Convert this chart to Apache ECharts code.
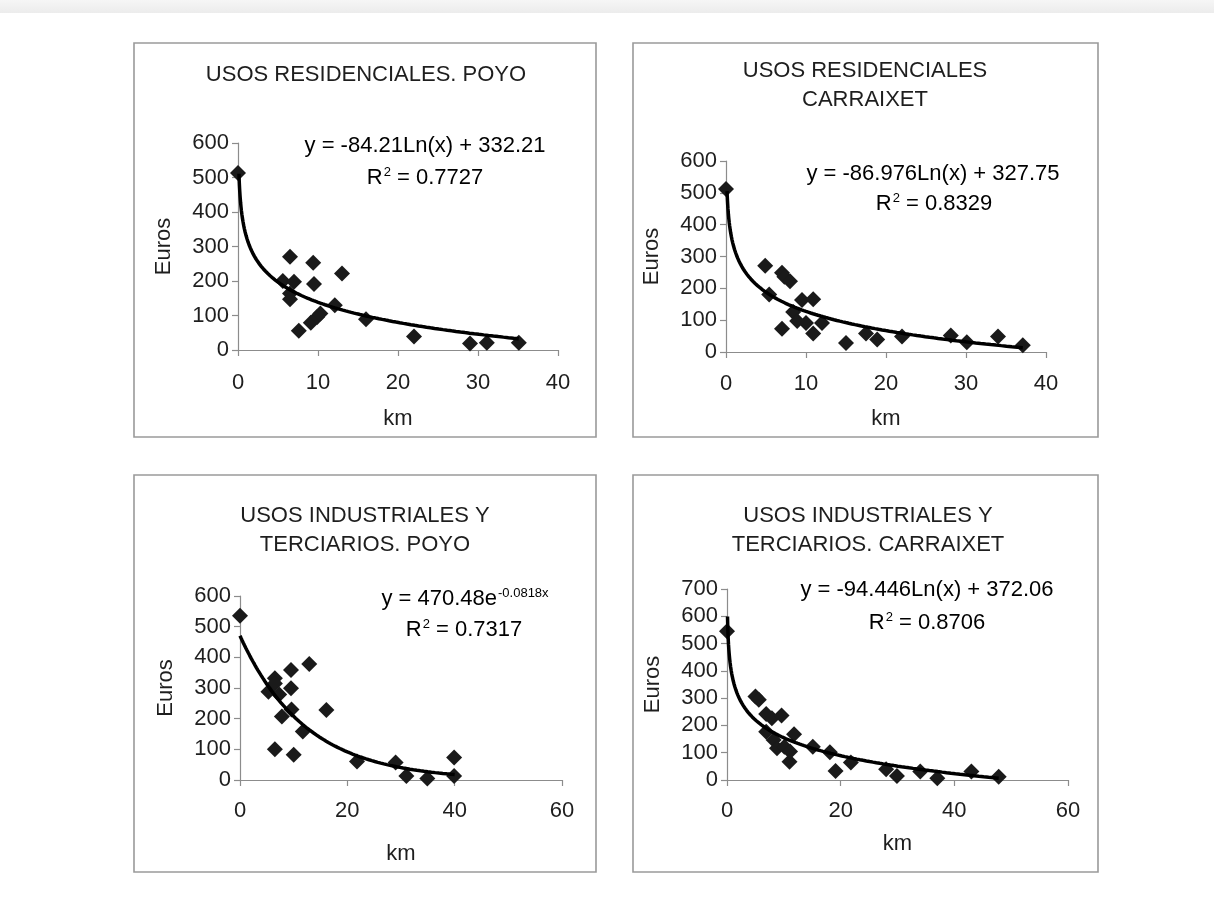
<!DOCTYPE html>
<html>
<head>
<meta charset="utf-8">
<script src="https://cdn.jsdelivr.net/npm/echarts@6/dist/echarts.min.js"></script>
<style>
  html, body { margin: 0; padding: 0; background: #fff; }
  #chart { width: 1214px; height: 908px; }
</style>
</head>
<body>
<div id="chart"></div>
<script>
// --- data ---
const resPoyoKm = [0, 6.5, 5.6, 7.0, 6.5, 6.5, 7.6, 9.4, 9.5, 9.1, 9.9, 10.3, 13.0, 12.1, 16.0, 22.0, 29.0, 31.1, 35.1];
const resPoyoEuros = [513, 270, 200, 198, 164, 147, 56, 253, 191, 79, 96, 106, 222, 130, 89, 39, 19, 21, 21];

const resCarrKm = [0, 4.9, 5.4, 7.0, 7.3, 8.0, 7.0, 8.4, 8.9, 9.5, 10.0, 10.9, 10.9, 12.0, 15.0, 17.5, 18.9, 22.0, 28.1, 30.1, 34.0, 37.1];
const resCarrEuros = [512, 271, 181, 249, 236, 222, 73, 126, 97, 163, 91, 166, 58, 91, 28, 58, 39, 49, 52, 31, 49, 21];

const indPoyoKm = [0, 5.3, 6.5, 6.5, 7.3, 6.5, 7.8, 9.5, 9.5, 9.6, 10.0, 12.9, 11.7, 16.1, 21.8, 29.0, 31.0, 34.9, 39.9, 39.9];
const indPoyoEuros = [536, 288, 332, 315, 279, 100, 207, 359, 299, 230, 82, 378, 158, 228, 60, 57, 13, 5, 73, 13];

const indCarrKm = [0, 5.0, 5.6, 6.9, 7.9, 9.6, 6.9, 8.2, 8.8, 10.1, 11.0, 11.8, 11.1, 15.1, 18.1, 19.1, 21.8, 28.0, 29.9, 34.0, 37.0, 43.0, 47.8];
const indCarrEuros = [545, 306, 294, 242, 226, 236, 177, 147, 116, 122, 67, 168, 104, 122, 102, 33, 64, 39, 15, 31, 6, 31, 12];

// trendline equations printed on the chart: [type, a, b, xFrom, xTo]
const trendResPoyo = ['log', -84.21, 332.21, 0.12, 35.1];
const trendResCarr = ['log', -86.976, 327.75, 0.13, 37.1];
const trendIndPoyo = ['exp', 470.48, -0.0818, 0, 40];
const trendIndCarr = ['log', -94.446, 372.06, 0.09, 47.8];

const xTicks = [[0, 40, 10], [0, 40, 10], [0, 60, 20], [0, 60, 20]];
const yTicks = [[0, 600, 100], [0, 600, 100], [0, 600, 100], [0, 700, 100]];

const titles = [
  'USOS RESIDENCIALES. POYO',
  'USOS RESIDENCIALES\nCARRAIXET',
  'USOS INDUSTRIALES Y\nTERCIARIOS. POYO',
  'USOS INDUSTRIALES Y\nTERCIARIOS. CARRAIXET',
];
const eqLines = [
  ['{t|y = -84.21Ln(x) + 332.21}', '{t|R}{s|2}{t| = 0.7727}'],
  ['{t|y = -86.976Ln(x) + 327.75}', '{t|R}{s|2}{t| = 0.8329}'],
  ['{t|y = 470.48e}{s|-0.0818x}', '{t|R}{s|2}{t| = 0.7317}'],
  ['{t|y = -94.446Ln(x) + 372.06}', '{t|R}{s|2}{t| = 0.8706}'],
];

// --- layout ---
const FONT = "'Liberation Sans', Arial, sans-serif";
const TXT = '#1e1e1e';
const boxes = [
  [134, 43, 462, 394],
  [633, 43, 465, 394],
  [134, 475, 462, 397],
  [633, 475, 465, 397],
];
const grids = [
  { left: 238, top: 143, width: 320, height: 207 },
  { left: 726, top: 161, width: 320, height: 191 },
  { left: 240, top: 596, width: 322, height: 184 },
  { left: 727, top: 589, width: 341, height: 191 },
];
const titlePos = [[366, 71], [865, 67], [365, 512], [868, 512]];
const eqPos = [
  [[425, 146], [425, 178]],
  [[933, 174], [934, 204]],
  [[465, 599], [464, 630]],
  [[927, 590], [927, 623]],
];
const xNameGap = [58, 56, 63, 53];
const xLabelMargin = [22, 21, 20, 20];

function trendData(t) {
  const [type, a, b, x0, x1] = t;
  const pts = [];
  const n = 160;
  for (let i = 0; i <= n; i++) {
    const u = i / n;
    const x = x0 + (x1 - x0) * u * u * u;
    const y = type === 'log' ? a * Math.log(x) + b : a * Math.exp(b * x);
    pts.push([x, y]);
  }
  return pts;
}

const scatterSets = [
  [resPoyoKm, resPoyoEuros],
  [resCarrKm, resCarrEuros],
  [indPoyoKm, indPoyoEuros],
  [indCarrKm, indCarrEuros],
];
const trends = [trendResPoyo, trendResCarr, trendIndPoyo, trendIndCarr];

const chart = echarts.init(document.getElementById('chart'), null, { renderer: 'canvas' });

const axisCommon = {
  type: 'value',
  axisLine: { show: true, onZero: false, lineStyle: { color: '#8c8c8c', width: 1.2 } },
  axisTick: { show: true, inside: false, length: 6, lineStyle: { color: '#8c8c8c', width: 1.2 } },
  splitLine: { show: false },
  nameTextStyle: { color: TXT, fontSize: 22, fontFamily: FONT },
};

const graphic = [];
boxes.forEach((b) => {
  graphic.push({
    type: 'rect',
    shape: { x: b[0], y: b[1], width: b[2], height: b[3] },
    style: { fill: '#fff', stroke: '#9a9a9a', lineWidth: 1.6 },
    z: -10,
  });
});
// faint page shadow at the top
graphic.push({
  type: 'rect',
  shape: { x: 0, y: 0, width: 1214, height: 13 },
  style: {
    fill: new echarts.graphic.LinearGradient(0, 0, 0, 1, [
      { offset: 0, color: '#f6f6f6' },
      { offset: 1, color: '#ececec' },
    ]),
  },
  z: -20,
});
titles.forEach((t, i) => {
  graphic.push({
    type: 'text',
    x: titlePos[i][0],
    y: titlePos[i][1] - 11,
    style: {
      text: t,
      fill: TXT,
      font: '22px ' + FONT,
      lineHeight: 29,
      align: 'center',
      verticalAlign: 'top',
    },
  });
});
eqLines.forEach((lines, i) => {
  lines.forEach((txt, j) => {
    graphic.push({
      type: 'text',
      x: eqPos[i][j][0],
      y: eqPos[i][j][1],
      style: {
        text: txt,
        align: 'center',
        verticalAlign: 'middle',
        rich: {
          t: { fontSize: 22, fontFamily: FONT, color: TXT, lineHeight: 24 },
          s: { fontSize: 13, fontFamily: FONT, color: TXT, lineHeight: 13, verticalAlign: 'top', padding: [0, 0, 0, 1] },
        },
      },
    });
  });
});

const option = {
  backgroundColor: '#fff',
  animation: false,
  textStyle: { fontFamily: FONT },
  grid: grids,
  xAxis: grids.map((g, i) => ({
    ...axisCommon,
    gridIndex: i,
    min: xTicks[i][0],
    max: xTicks[i][1],
    interval: xTicks[i][2],
    name: 'km',
    nameLocation: 'middle',
    nameGap: xNameGap[i],
    axisLabel: { color: TXT, fontSize: 22, fontFamily: FONT, margin: xLabelMargin[i] },
  })),
  yAxis: grids.map((g, i) => ({
    ...axisCommon,
    gridIndex: i,
    min: yTicks[i][0],
    max: yTicks[i][1],
    interval: yTicks[i][2],
    name: 'Euros',
    nameLocation: 'middle',
    nameGap: 63,
    axisLabel: { color: TXT, fontSize: 22, fontFamily: FONT, margin: 9 },
  })),
  series: [
    ...scatterSets.map(([km, eur], i) => ({
      type: 'scatter',
      xAxisIndex: i,
      yAxisIndex: i,
      symbol: 'diamond',
      symbolSize: 16,
      itemStyle: { color: '#1a1a1a', opacity: 1 },
      data: km.map((x, k) => [x, eur[k]]),
      z: 2,
    })),
    ...trends.map((t, i) => ({
      type: 'line',
      xAxisIndex: i,
      yAxisIndex: i,
      showSymbol: false,
      symbol: 'none',
      lineStyle: { color: '#000', width: 3.5 },
      data: trendData(t),
      z: 3,
    })),
  ],
  graphic: graphic,
};

chart.setOption(option);
</script>
</body>
</html>
